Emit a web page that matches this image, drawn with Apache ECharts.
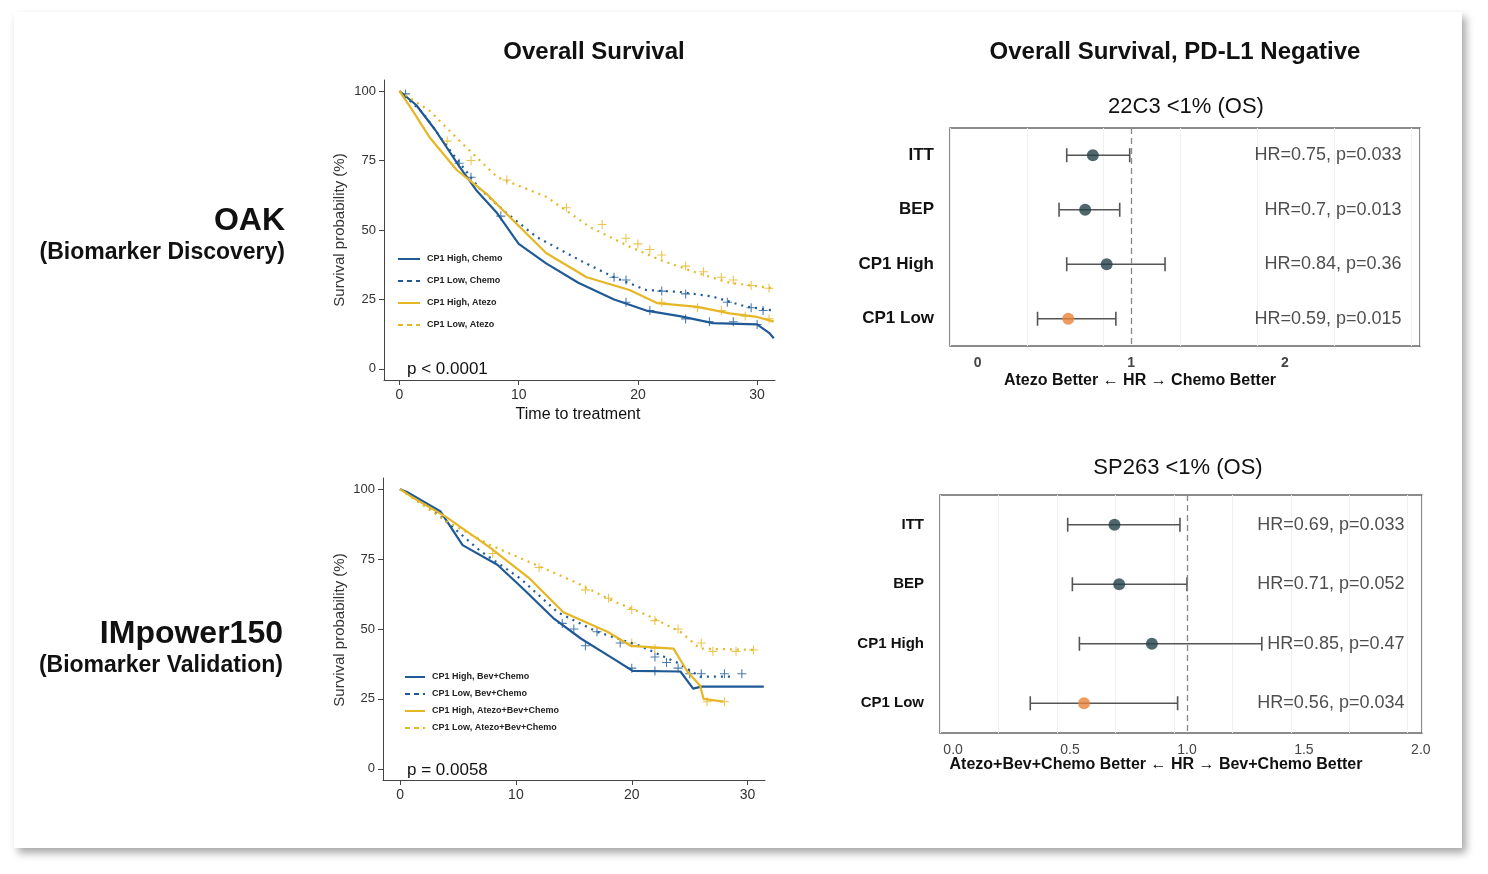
<!DOCTYPE html>
<html><head><meta charset="utf-8">
<script src="https://cdn.jsdelivr.net/npm/echarts@6/dist/echarts.min.js"></script>
<style>
html,body{margin:0;padding:0;background:#fff;}
#card{position:absolute;left:14px;top:12px;width:1448px;height:836px;background:#fff;box-shadow:4px 5px 8px rgba(0,0,0,0.35);}
#chart{position:absolute;left:0;top:0;width:1488px;height:874px;}
</style></head>
<body><div id="card"></div><div id="chart"></div>
<script>
// OAK Kaplan-Meier curves: [time, survival %]
const oakHighChemo = [[0,100],[1.4,95],[3,86],[5,73],[6.5,64],[8.2,56],[10,45],[12.3,38],[15,31],[18,25],[20.7,21],[23.5,19],[26.3,16.5],[30,16],[31,13],[31.4,11]];
const oakLowChemo = [[0,100],[2,92],[4,80],[6.7,65],[9,56],[11.5,47.5],[15.4,38.5],[18,33],[20.7,28.4],[23.5,27.7],[26.3,26],[29,22.5],[31.4,21]];
const oakHighAtezo = [[0,100],[1.1,93],[2.5,83.5],[4.8,71.6],[7.3,63],[9.5,53.6],[12.3,41.7],[15.7,33],[19.3,28.4],[21.6,23.7],[25,22.3],[27.7,20],[30,18.7],[31.4,17]];
const oakLowAtezo = [[0,100],[2.5,93],[5.3,81],[8.2,69],[12.3,62],[16,51],[19.3,44],[22,39],[25,34.5],[27.7,31],[31.4,29]];
// IMpower150 Kaplan-Meier curves
const impHighBC = [[0,100],[0.6,99],[3.5,92],[5.4,80],[8.4,73],[10.6,64.5],[13.2,54],[15.6,46.6],[18.4,39.4],[20.1,35],[24.2,34.8],[25.3,28.7],[26,29.4],[31.4,29.4]];
const impLowBC = [[0,100],[3,92],[6.9,78],[10.4,68],[13.6,56],[17,49],[20.7,44],[23.9,38],[25.9,33],[28.8,33]];
const impHighABC = [[0,100],[1.1,97],[4,90],[7.8,79],[11.2,68],[14.1,56],[17.9,49],[19.9,44],[23.6,43],[24.8,34.8],[25.9,29.7],[26.2,25],[27.9,24]];
const impLowABC = [[0,100],[4,88.5],[7.8,80],[12.4,71.7],[15,67],[18.4,60],[21.3,55],[24.2,49],[25.9,43],[30.5,42.5]];
// censor marks
const oakCensorBlue = [[0.5,99],[5,74],[6,69],[8.5,55],[18,33],[19,32],[22,28],[24,27],[27.5,24],[29.5,22],[30.5,21],[19,24],[21,21],[24,18],[26,17],[28,17],[30,16]];
const oakCensorYellow = [[4,82],[6,75],[9,68],[14,58],[17,52],[19,47],[20,45],[21,43],[22,41],[24,37],[25.5,35],[27,33],[28,32],[29.5,30],[31,29],[22,24],[25,22],[27,21],[29,19],[31,18]];
const impCensorBlue = [[14,52],[15,50],[17,49],[19,45],[22,40],[23,38],[24,36],[26,34],[28,34],[29.5,34],[16,44],[20,36],[22,35],[25,34]];
const impCensorYellow = [[8,77],[12,72],[16,64],[18,61],[20,57],[22,53],[24,50],[26,45],[27,42],[29,42],[30.5,42.5],[20,45],[22,43],[26.5,24],[28,24]];
// forest plots
const rows = ['ITT','BEP','CP1 High','CP1 Low'];
const f1Hr = [0.75,0.70,0.84,0.59], f1Lo = [0.58,0.53,0.58,0.39], f1Hi = [0.99,0.925,1.22,0.90];
const f1Txt = ['HR=0.75, p=0.033','HR=0.7, p=0.013','HR=0.84, p=0.36','HR=0.59, p=0.015'];
const f2Hr = [0.69,0.71,0.85,0.56], f2Lo = [0.49,0.51,0.54,0.33], f2Hi = [0.97,1.0,1.32,0.96];
const f2Txt = ['HR=0.69, p=0.033','HR=0.71, p=0.052','HR=0.85, p=0.47','HR=0.56, p=0.034'];

const BLUE = '#1f5a96', YEL = '#e6b625', DARK = '#24414a', ORANGE = '#e8823a';
const plus = 'path://M-0.6,-5H0.6V-0.6H5V0.6H0.6V5H-0.6V0.6H-5V-0.6H-0.6Z';
const chart = echarts.init(document.getElementById('chart'));

function kmX(i, min, max, grid) {
  return {gridIndex: grid, type:'value', min: min, max: max,
    axisLine:{show:true,onZero:false,lineStyle:{color:'#444'}}, axisTick:{show:true,customValues:[0,10,20,30],lineStyle:{color:'#444'}},
    axisLabel:{customValues:[0,10,20,30],color:'#333',fontSize:14,fontFamily:'Liberation Sans'}, splitLine:{show:false}};
}
function kmY(grid) {
  return {gridIndex: grid, type:'value', min:-4, max:104,
    axisLine:{show:true,onZero:false,lineStyle:{color:'#444'}}, axisTick:{show:true,customValues:[0,25,50,75,100],lineStyle:{color:'#444'}},
    axisLabel:{customValues:[0,25,50,75,100],color:'#333',fontSize:13,fontFamily:'Liberation Sans'}, splitLine:{show:false}};
}
function line(data, color, dashed, idx) {
  return {type:'line', xAxisIndex:idx, yAxisIndex:idx, data:data, showSymbol:false, symbol:'none',
    lineStyle:{color:color, width:2.2, type: dashed ? [2,5] : 'solid'}, silent:true};
}
function cens(data, color, idx) {
  return {type:'scatter', xAxisIndex:idx, yAxisIndex:idx, data:data, symbol:plus, symbolSize:9, itemStyle:{color:color}, silent:true};
}
function fX(grid, min, max, interval, labels, fmt, bold) {
  return {gridIndex:grid, type:'value', min:min, max:max,
    axisLine:{show:false}, axisTick:{show:false},
    axisLabel:{customValues:labels, color:'#444', fontSize:14, fontWeight: bold ? 'bold':'normal', fontFamily:'Liberation Sans', formatter:fmt, margin:10},
    splitLine:{show:true, lineStyle:{color:'#f0f0f0'}}, interval:interval};
}
function fY(grid, fs) {
  return {gridIndex:grid, type:'category', data:rows, inverse:true,
    axisLine:{show:false}, axisTick:{show:false}, splitLine:{show:false},
    axisLabel:{color:'#111', fontSize:fs, fontWeight:'bold', fontFamily:'Liberation Sans', margin:16}};
}
function forest(idx, hr, lo, hi, txt, tx) {
  const ci = rows.map((r,i)=>[lo[i],hi[i],i]);
  return [
    {type:'custom', xAxisIndex:idx, yAxisIndex:idx, data:ci, silent:true,
      renderItem:function(p, api){
        const a = api.coord([api.value(0), api.value(2)]), b = api.coord([api.value(1), api.value(2)]);
        const s = {stroke:'#555', lineWidth:1.6};
        return {type:'group', children:[
          {type:'line', shape:{x1:a[0],y1:a[1],x2:b[0],y2:b[1]}, style:s},
          {type:'line', shape:{x1:a[0],y1:a[1]-7,x2:a[0],y2:a[1]+7}, style:s},
          {type:'line', shape:{x1:b[0],y1:b[1]-7,x2:b[0],y2:b[1]+7}, style:s}]};
      }},
    {type:'scatter', xAxisIndex:idx, yAxisIndex:idx, symbolSize:12, silent:true,
      data: hr.map((v,i)=>({value:[v,i], itemStyle:{color: i===3 ? ORANGE : DARK}})),
      markLine:{silent:true, symbol:'none', label:{show:false}, lineStyle:{color:'#888',type:[6,4],width:1.3}, data:[{xAxis:1}]}},
    {type:'scatter', xAxisIndex:idx, yAxisIndex:idx, symbolSize:0, silent:true,
      data: txt.map((t,i)=>({value:[tx,i], name:t})),
      label:{show:true, position:'left', formatter:'{b}', color:'#222', fontSize:18, fontFamily:'Liberation Sans', distance:0}}
  ];
}

const txt = (x, y, s, fs, w, align, extra) => Object.assign({type:'text', x:x, y:y,
  style:{text:s, fontSize:fs, fontWeight:w, fill:'#111', fontFamily:'Liberation Sans', textAlign:align, textVerticalAlign:'middle'}}, extra||{});
const ylab = (x, y) => ({type:'text', x:x, y:y, rotation:Math.PI/2,
  style:{text:'Survival probability (%)',fontSize:15,fill:'#333',fontFamily:'Liberation Sans',textAlign:'center',textVerticalAlign:'middle'}});
function legend(x0, y0, dy, names, len) {
  const out = [];
  const cols = [BLUE, BLUE, YEL, YEL];
  names.forEach((n,i)=>{
    const y = y0 + i*dy;
    out.push({type:'line', shape:{x1:x0,y1:y,x2:x0+len,y2:y}, style:{stroke:cols[i], lineWidth:2, lineDash: i%2 ? [5,4] : null}});
    out.push({type:'text', x:x0+len+7, y:y, style:{text:n, fontSize:9, fontWeight:'bold', fill:'#222', fontFamily:'Liberation Sans', textVerticalAlign:'middle'}});
  });
  return out;
}

chart.setOption({
  animation:false,
  grid:[
    {left:384, width:391, top:80, height:300},
    {left:383, width:382, top:478, height:302},
    {left:950, width:470, top:128, height:218, show:true, borderColor:'#666', borderWidth:1.5, backgroundColor:'#fff'},
    {left:940, width:482, top:495, height:238, show:true, borderColor:'#666', borderWidth:1.5, backgroundColor:'#fff'}
  ],
  xAxis:[kmX(0,-1.3,31.5,0), kmX(1,-1.47,31.5,1),
    fX(2,-0.18,2.88,0.5,[0,1,2],v=>String(v),true),
    fX(3,-0.056,2.005,0.25,[0,0.5,1,1.5,2],v=>v.toFixed(1),false)],
  yAxis:[kmY(0), kmY(1), fY(2,17), fY(3,15)],
  series:[
    line(oakHighChemo,BLUE,false,0), line(oakLowChemo,BLUE,true,0), line(oakHighAtezo,YEL,false,0), line(oakLowAtezo,YEL,true,0),
    cens(oakCensorBlue,BLUE,0), cens(oakCensorYellow,YEL,0),
    line(impHighBC,BLUE,false,1), line(impLowBC,BLUE,true,1), line(impHighABC,YEL,false,1), line(impLowABC,YEL,true,1),
    cens(impCensorBlue,BLUE,1), cens(impCensorYellow,YEL,1),
    ...forest(2,f1Hr,f1Lo,f1Hi,f1Txt,2.76),
    ...forest(3,f2Hr,f2Lo,f2Hi,f2Txt,1.93)
  ],
  graphic:[
    txt(594,52,'Overall Survival',24,'bold','center'),
    txt(1175,52,'Overall Survival, PD-L1 Negative',24,'bold','center'),
    txt(285,221,'OAK',32,'bold','right'),
    txt(285,253,'(Biomarker Discovery)',23,'bold','right'),
    txt(283,634,'IMpower150',32,'bold','right'),
    txt(283,666,'(Biomarker Validation)',23,'bold','right'),
    ylab(340,230), ylab(340,630),
    txt(578,415,'Time to treatment',16,'normal','center'),
    txt(407,369,'p < 0.0001',17,'normal','left'),
    txt(407,770,'p = 0.0058',17,'normal','left'),
    txt(1186,107,'22C3 <1% (OS)',22,'normal','center'),
    txt(1178,468,'SP263 <1% (OS)',22,'normal','center'),
    txt(1140,381,'Atezo Better ← HR → Chemo Better',16,'bold','center'),
    txt(1156,765,'Atezo+Bev+Chemo Better ← HR → Bev+Chemo Better',16,'bold','center'),
    ...legend(398,259,22,['CP1 High, Chemo','CP1 Low, Chemo','CP1 High, Atezo','CP1 Low, Atezo'],22),
    ...legend(405,677,17,['CP1 High, Bev+Chemo','CP1 Low, Bev+Chemo','CP1 High, Atezo+Bev+Chemo','CP1 Low, Atezo+Bev+Chemo'],20)
  ]
});
</script></body></html>
